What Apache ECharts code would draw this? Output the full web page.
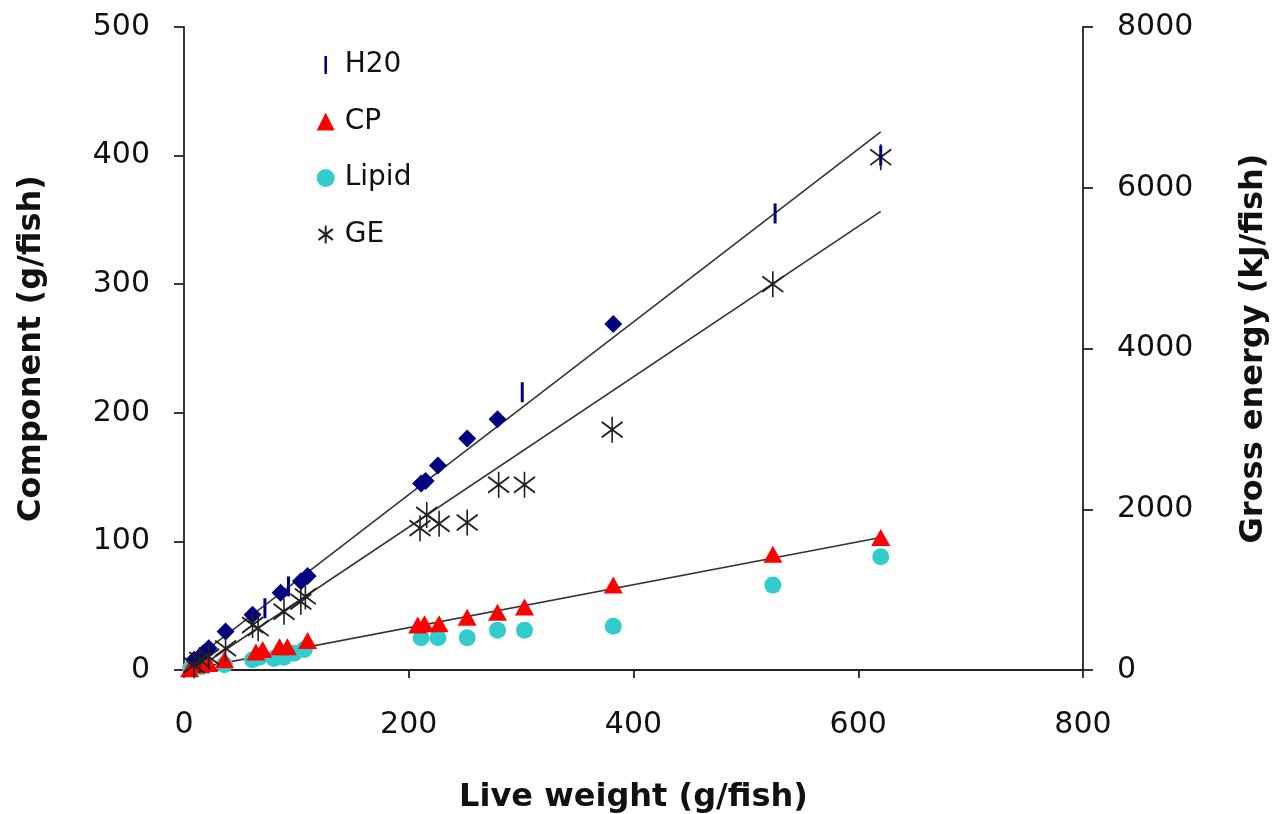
<!DOCTYPE html>
<html>
<head>
<meta charset="utf-8">
<script src="https://cdn.jsdelivr.net/npm/echarts@6/dist/echarts.min.js"></script>
<style>
html,body{margin:0;padding:0;background:#fff;}
#chart{width:1274px;height:814px;}
</style>
</head>
<body>
<div id="chart"></div>
<script>
// ---- data ----
// H2O (diamond markers, not in legend)
var diamondX = [9, 17, 22, 37, 61, 86, 104, 110, 211, 215, 226, 252, 279, 382];
var diamondY = [8, 13, 17, 30, 43, 60, 69, 73, 145, 147, 159, 180, 195, 269];
// H20 (bar markers)
var h2oX = [72, 93, 301, 526, 620];
var h2oY = [48, 65, 216, 355, 400];
// CP
var cpX = [5, 15, 22, 36, 64, 70, 85, 92, 110, 208, 214, 227, 252, 279, 303, 382, 524, 620];
var cpY = [1, 4, 5, 8, 14, 16, 18, 18, 23, 35, 36, 36, 41, 45, 49, 66, 90, 103];
// Lipid
var lipX = [6, 15, 36, 61, 67, 80, 89, 98, 107, 211, 226, 252, 279, 303, 382, 524, 620];
var lipY = [1.5, 2.5, 4, 8, 10, 9, 10, 13, 16, 25, 25, 25, 31, 31, 34, 66, 88];
// GE (kJ/fish, right axis)
var geX = [9, 14, 22, 37, 61, 66, 89, 104, 108, 210, 216, 227, 252, 280, 303, 381, 524, 620];
var geY = [60, 125, 165, 270, 560, 520, 725, 850, 915, 1765, 1930, 1820, 1835, 2305, 2305, 2990, 4800, 6380];
// fitted lines (endpoints)
var fitX = [0, 620];
var fitH2OY = [2, 418.5];
var fitGEX = [10, 620];
var fitGEY = [0, 5707];
var fitCPY = [-0.5, 103];
// axis ticks
var xTicks = {min: 0, max: 800, interval: 200};
var yLeftTicks = {min: 0, max: 500, interval: 100};
var yRightTicks = {min: 0, max: 8000, interval: 2000};

function pts(xs, ys) { return xs.map(function (x, i) { return [x, ys[i]]; }); }

var asterisk = 'path://M10,0 L10,20 M2,4 L18,16 M2,16 L18,4';
var bar = 'path://M0,0 L2,0 L2,14 L0,14 Z';

var labelFont = {fontFamily: 'DejaVu Sans', fontSize: 30, color: '#111'};
var titleFont = {fontFamily: 'DejaVu Sans', fontWeight: 'bold', fontSize: 32, color: '#111'};
var axisLineStyle = {color: '#222', width: 1.8};
function plain(v) { return String(v); }

var chart = echarts.init(document.getElementById('chart'), null, {renderer: 'canvas'});
chart.setOption({
  animation: false,
  backgroundColor: '#fff',
  grid: {left: 184, right: 191, top: 27, bottom: 144, containLabel: false, outerBoundsMode: 'none'},
  xAxis: {
    type: 'value', min: xTicks.min, max: xTicks.max, interval: xTicks.interval,
    name: 'Live weight (g/fish)', nameLocation: 'middle', nameGap: 112,
    nameTextStyle: titleFont,
    axisLine: {show: true, onZero: false, lineStyle: axisLineStyle},
    axisTick: {show: true, inside: false, length: 8, lineStyle: axisLineStyle},
    axisLabel: Object.assign({margin: 40, formatter: plain}, labelFont),
    splitLine: {show: false}
  },
  yAxis: [{
    type: 'value', position: 'left', min: yLeftTicks.min, max: yLeftTicks.max, interval: yLeftTicks.interval,
    name: 'Component (g/fish)', nameLocation: 'middle', nameGap: 136, nameRotate: 90,
    nameTextStyle: titleFont,
    axisLine: {show: true, lineStyle: axisLineStyle},
    axisTick: {show: true, inside: false, length: 10, lineStyle: axisLineStyle},
    axisLabel: Object.assign({margin: 34, formatter: plain}, labelFont),
    splitLine: {show: false}
  }, {
    type: 'value', position: 'right', min: yRightTicks.min, max: yRightTicks.max, interval: yRightTicks.interval,
    name: 'Gross energy (kJ/fish)', nameLocation: 'middle', nameGap: 155, nameRotate: 90,
    nameTextStyle: titleFont,
    axisLine: {show: true, lineStyle: axisLineStyle},
    axisTick: {show: true, inside: false, length: 10, lineStyle: axisLineStyle},
    axisLabel: Object.assign({margin: 34, formatter: plain}, labelFont),
    splitLine: {show: false}
  }],
  legend: {
    show: true, orient: 'vertical', left: 311, top: 46,
    itemWidth: 18, itemHeight: 18, itemGap: 28.5,
    textStyle: {fontFamily: 'DejaVu Sans', fontSize: 28, color: '#111', lineHeight: 27, padding: [0, 0, 0, 5]},
    data: [
      {name: 'H20', icon: bar},
      {name: 'CP'},
      {name: 'Lipid'},
      {name: 'GE'}
    ]
  },
  series: [
    {type: 'line', data: pts(fitX, fitH2OY), yAxisIndex: 0, symbol: 'none', silent: true,
     lineStyle: {color: '#333', width: 1.6}, z: 1},
    {type: 'line', data: pts(fitGEX, fitGEY), yAxisIndex: 1, symbol: 'none', silent: true,
     lineStyle: {color: '#333', width: 1.6}, z: 1},
    {type: 'line', data: pts(fitX, fitCPY), yAxisIndex: 0, symbol: 'none', silent: true,
     lineStyle: {color: '#333', width: 1.6}, z: 1},
    {name: 'H2O-diamond', type: 'scatter', yAxisIndex: 0, data: pts(diamondX, diamondY),
     symbol: 'diamond', symbolSize: [18, 18], itemStyle: {color: '#000080', opacity: 1}, z: 3},
    {name: 'Lipid', type: 'scatter', yAxisIndex: 0, data: pts(lipX, lipY),
     symbol: 'circle', symbolSize: 17, itemStyle: {color: '#33cccc', opacity: 1}, z: 2},
    {name: 'CP', type: 'scatter', yAxisIndex: 0, data: pts(cpX, cpY),
     symbol: 'triangle', symbolSize: [19, 17], itemStyle: {color: '#ff0000', opacity: 1}, z: 2},
    {name: 'GE', type: 'scatter', yAxisIndex: 1, data: pts(geX, geY),
     symbol: asterisk, symbolSize: [21, 26],
     itemStyle: {color: 'none', borderColor: '#222', borderWidth: 1.8, opacity: 1}, z: 4},
    {name: 'H20', type: 'scatter', yAxisIndex: 0, data: pts(h2oX, h2oY),
     symbol: 'rect', symbolSize: [3, 20], itemStyle: {color: '#000080', opacity: 1}, z: 5}
  ]
});
</script>
</body>
</html>
